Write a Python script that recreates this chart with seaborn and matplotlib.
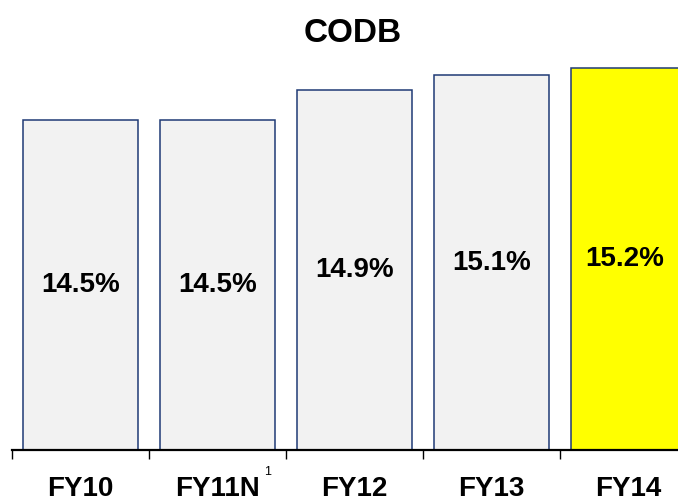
import matplotlib
matplotlib.use("Agg")
import matplotlib.pyplot as plt
import seaborn as sns
import pandas as pd

# data
years = ["FY10", "FY11N", "FY12", "FY13", "FY14"]
codb = [14.5, 14.5, 14.9, 15.1, 15.2]
bar_colors = ["#F2F2F2", "#F2F2F2", "#F2F2F2", "#F2F2F2", "#FFFF00"]

sns.set_style("white")
plt.rcParams['font.family'] = ['Liberation Sans', 'DejaVu Sans']
plt.rcParams['text.color'] = 'black'
plt.rcParams['xtick.color'] = 'black'

df = pd.DataFrame({"year": years, "codb": codb})

fig = plt.figure(figsize=(6.78, 4.96), dpi=100)
ax = fig.add_axes([12 / 678, 1 - 450 / 496, 666 / 678, 390 / 496])

sns.barplot(data=df, x="year", y="codb", hue="year", palette=bar_colors,
            legend=False, width=0.84, edgecolor="#1F3A75", linewidth=1.1,
            saturation=1, ax=ax)

ax.set_ylim(10.12, 15.30)
ax.set_xlim(-0.5, 4.36)

for c in ax.containers:
    ax.bar_label(c, labels=[f"{v:.1f}%" for v in c.datavalues],
                 label_type="center", fontsize=20, fontweight="bold",
                 color="black")

# spines / ticks
for s in ["top", "right", "left"]:
    ax.spines[s].set_visible(False)
ax.spines["bottom"].set_linewidth(1.6)
ax.spines["bottom"].set_color("black")
ax.set_yticks([])
ax.set_xticks(range(len(years)))
ax.set_xticklabels(years, fontsize=20, fontweight="bold", color="black")
ax.tick_params(axis="x", which="major", bottom=True, length=0, pad=19)
ax.set_xticks([i - 0.5 for i in range(len(years))], minor=True)
ax.tick_params(axis="x", which="minor", bottom=True, length=6.5, width=1,
               color="black", direction="out")
ax.set_xlabel("")
ax.set_ylabel("")

# footnote marker on FY11N
ax.annotate("1", xy=(1, 0), xycoords=("data", "axes fraction"),
            xytext=(36, -16), textcoords="offset points",
            ha="center", va="center", fontsize=9, color="black",
            annotation_clip=False)

fig.text(353 / 678, 1 - 33 / 496, "CODB", ha="center", va="center",
         fontsize=24, fontweight="bold", color="black")

fig.savefig("out.png", dpi=100)
